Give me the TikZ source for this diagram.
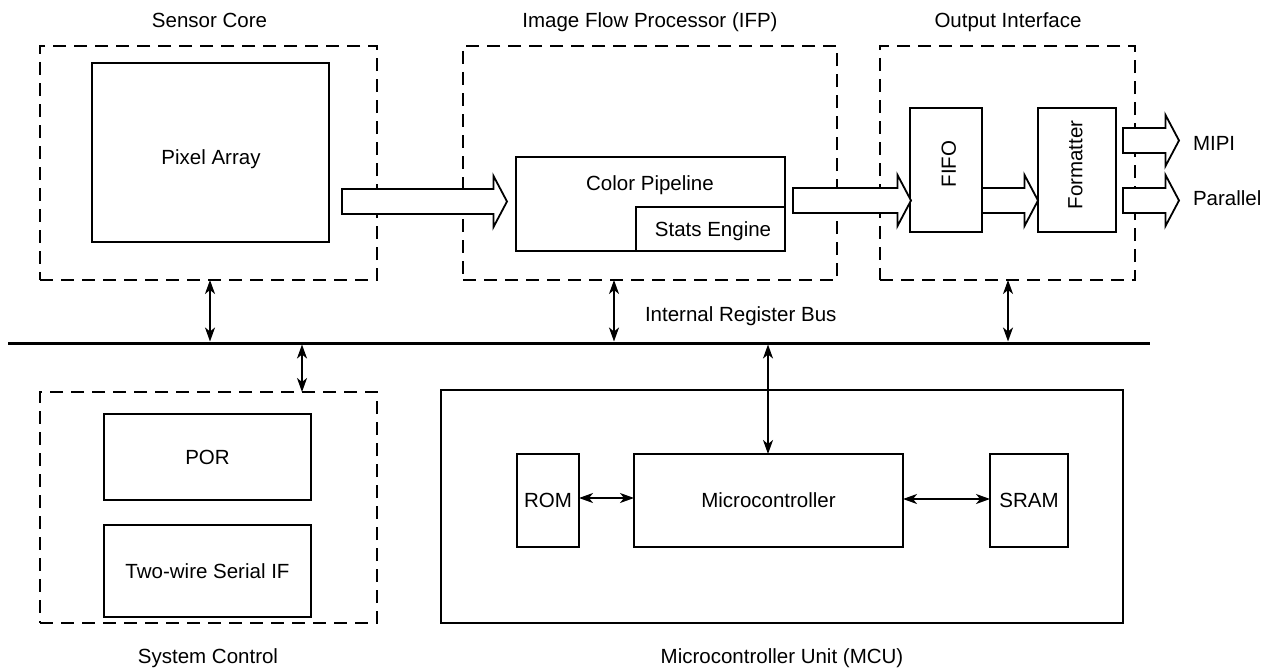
\documentclass[tikz,border=0pt]{standalone}
\usepackage{fontspec}
\setmainfont{Liberation Sans}
\usetikzlibrary{arrows.meta,calc}
\tikzset{
  box/.style={draw, line width=1.8pt, inner sep=0pt, outer sep=0pt, fill=white},
  dbox/.style={draw, line width=1.8pt, inner sep=0pt, outer sep=0pt, dash pattern=on 13pt off 8pt},
  txt/.style={inner sep=0pt, outer sep=0pt, text height=14.7pt, text depth=0pt, font=\fontsize{20.5}{24}\selectfont},
  biarrow/.style={line width=1.6pt, {Stealth[length=14pt,width=10pt,inset=4pt]}-{Stealth[length=14pt,width=10pt,inset=4pt]}},
  blockarr/.style={draw, line width=1.8pt, fill=white, line join=miter},
  busline/.style={line width=3pt}
}
\newcommand\barrow[2]{\draw[blockarr] let \p1=(#1), \p2=(#2) in
  (\x1,\y1+12.5) -- (\x2-13.5,\y1+12.5) -- (\x2-13.5,\y1+25.5) -- (\x2,\y1)
  -- (\x2-13.5,\y1-25.5) -- (\x2-13.5,\y1-12.5) -- (\x1,\y1-12.5) -- cycle;}
\begin{document}
\begin{tikzpicture}[x=1pt,y=-1pt]
\useasboundingbox (0,0) rectangle (1273,669);
% dashed groups
\node[dbox, minimum width=337pt, minimum height=234pt] (sc) at (208.5,163) {};
\node[dbox, minimum width=374pt, minimum height=234pt] (ifp) at (650,163) {};
\node[dbox, minimum width=255pt, minimum height=234pt] (oi) at (1007.5,163) {};
\node[dbox, minimum width=337pt, minimum height=231pt] (sys) at (208.5,507.5) {};
\node[box, fill=none, minimum width=682pt, minimum height=233pt] (mcu) at (782,506.5) {};
% inner blocks
\node[box, minimum width=237pt, minimum height=179pt] (pa) at (210.5,152.5) {};
\node[box, minimum width=269pt, minimum height=94pt] (cp) at (650.5,204) {};
\node[box, minimum width=149pt, minimum height=44pt] (se) at (710.5,229) {};
\node[box, minimum width=72pt, minimum height=124pt] (fifo) at (946,170) {};
\node[box, minimum width=78pt, minimum height=124pt] (fmt) at (1077,170) {};
\node[box, minimum width=207pt, minimum height=86pt] (por) at (207.5,457) {};
\node[box, minimum width=207pt, minimum height=92pt] (tw) at (207.5,571) {};
\node[box, minimum width=62pt, minimum height=93pt] (rom) at (548,500.5) {};
\node[box, minimum width=269pt, minimum height=93pt] (mc) at (768.5,500.5) {};
\node[box, minimum width=78pt, minimum height=93pt] (sram) at (1029,500.5) {};
% texts
\node[txt] (tsc) at (209.5,20) {Sensor Core};
\node[txt] (tifp) at (650,20) {Image Flow Processor (IFP)};
\node[txt] (toi) at (1008,20) {Output Interface};
\node[txt] (tpa) at (211,157) {Pixel Array};
\node[txt] (tcp) at (650,183.5) {Color Pipeline};
\node[txt] (tse) at (713,229) {Stats Engine};
\node[txt, rotate=90] (tfifo) at (948.5,164) {FIFO};
\node[txt, rotate=90] (tfmt) at (1075,165) {Formatter};
\node[txt, anchor=west] (tmipi) at (1193,143) {MIPI};
\node[txt, anchor=west] (tpar) at (1193,198) {Parallel};
\node[txt, anchor=west] (tbus) at (645,314) {Internal Register Bus};
\node[txt] (tpor) at (207.5,457) {POR};
\node[txt] (ttw) at (207.5,571) {Two-wire Serial IF};
\node[txt] (trom) at (548,500) {ROM};
\node[txt] (tmc) at (768.5,500) {Microcontroller};
\node[txt] (tsram) at (1029,500) {SRAM};
\node[txt] (tsys) at (208,656) {System Control};
\node[txt] (tmcu) at (782,656) {Microcontroller Unit (MCU)};
% bus
\coordinate (busL) at (8,343);
\coordinate (busR) at (1150,343);
\draw[busline] (busL) -- (busR);
\coordinate (b1) at (210,343);
\coordinate (b2) at (614,343);
\coordinate (b3) at (1008,343);
\coordinate (b4) at (302,343);
\coordinate (b5) at (768,343);
\draw[biarrow] (b1 |- sc.south) -- ([yshift=1.5pt]b1);
\draw[biarrow] (b2 |- ifp.south) -- ([yshift=1.5pt]b2);
\draw[biarrow] (b3 |- oi.south) -- ([yshift=1.5pt]b3);
\draw[biarrow] ([yshift=-1.5pt]b4) -- (b4 |- sys.north);
\draw[biarrow] ([yshift=-1.5pt]b5) -- (b5 |- mc.north);
% MCU internal
\draw[biarrow] (rom.east |- 0,498) -- (mc.west |- 0,498);
\draw[biarrow] (mc.east |- 0,499) -- (sram.west |- 0,499);
% block arrows
\coordinate (a1s) at (342,201.5);
\coordinate (a1e) at (507,201.5);
\coordinate (a2s) at (793,200.5);
\coordinate (a2e) at (911,200.5);
\coordinate (a3s) at (982,200.5);
\coordinate (a3e) at (1038,200.5);
\coordinate (a4s) at (1123,140.5);
\coordinate (a4e) at (1179,140.5);
\coordinate (a5s) at (1123,200.5);
\coordinate (a5e) at (1179,200.5);
\barrow{a1s}{a1e}
\barrow{a2s}{a2e}
\barrow{a3s}{a3e}
\barrow{a4s}{a4e}
\barrow{a5s}{a5e}
\end{tikzpicture}
\end{document}
